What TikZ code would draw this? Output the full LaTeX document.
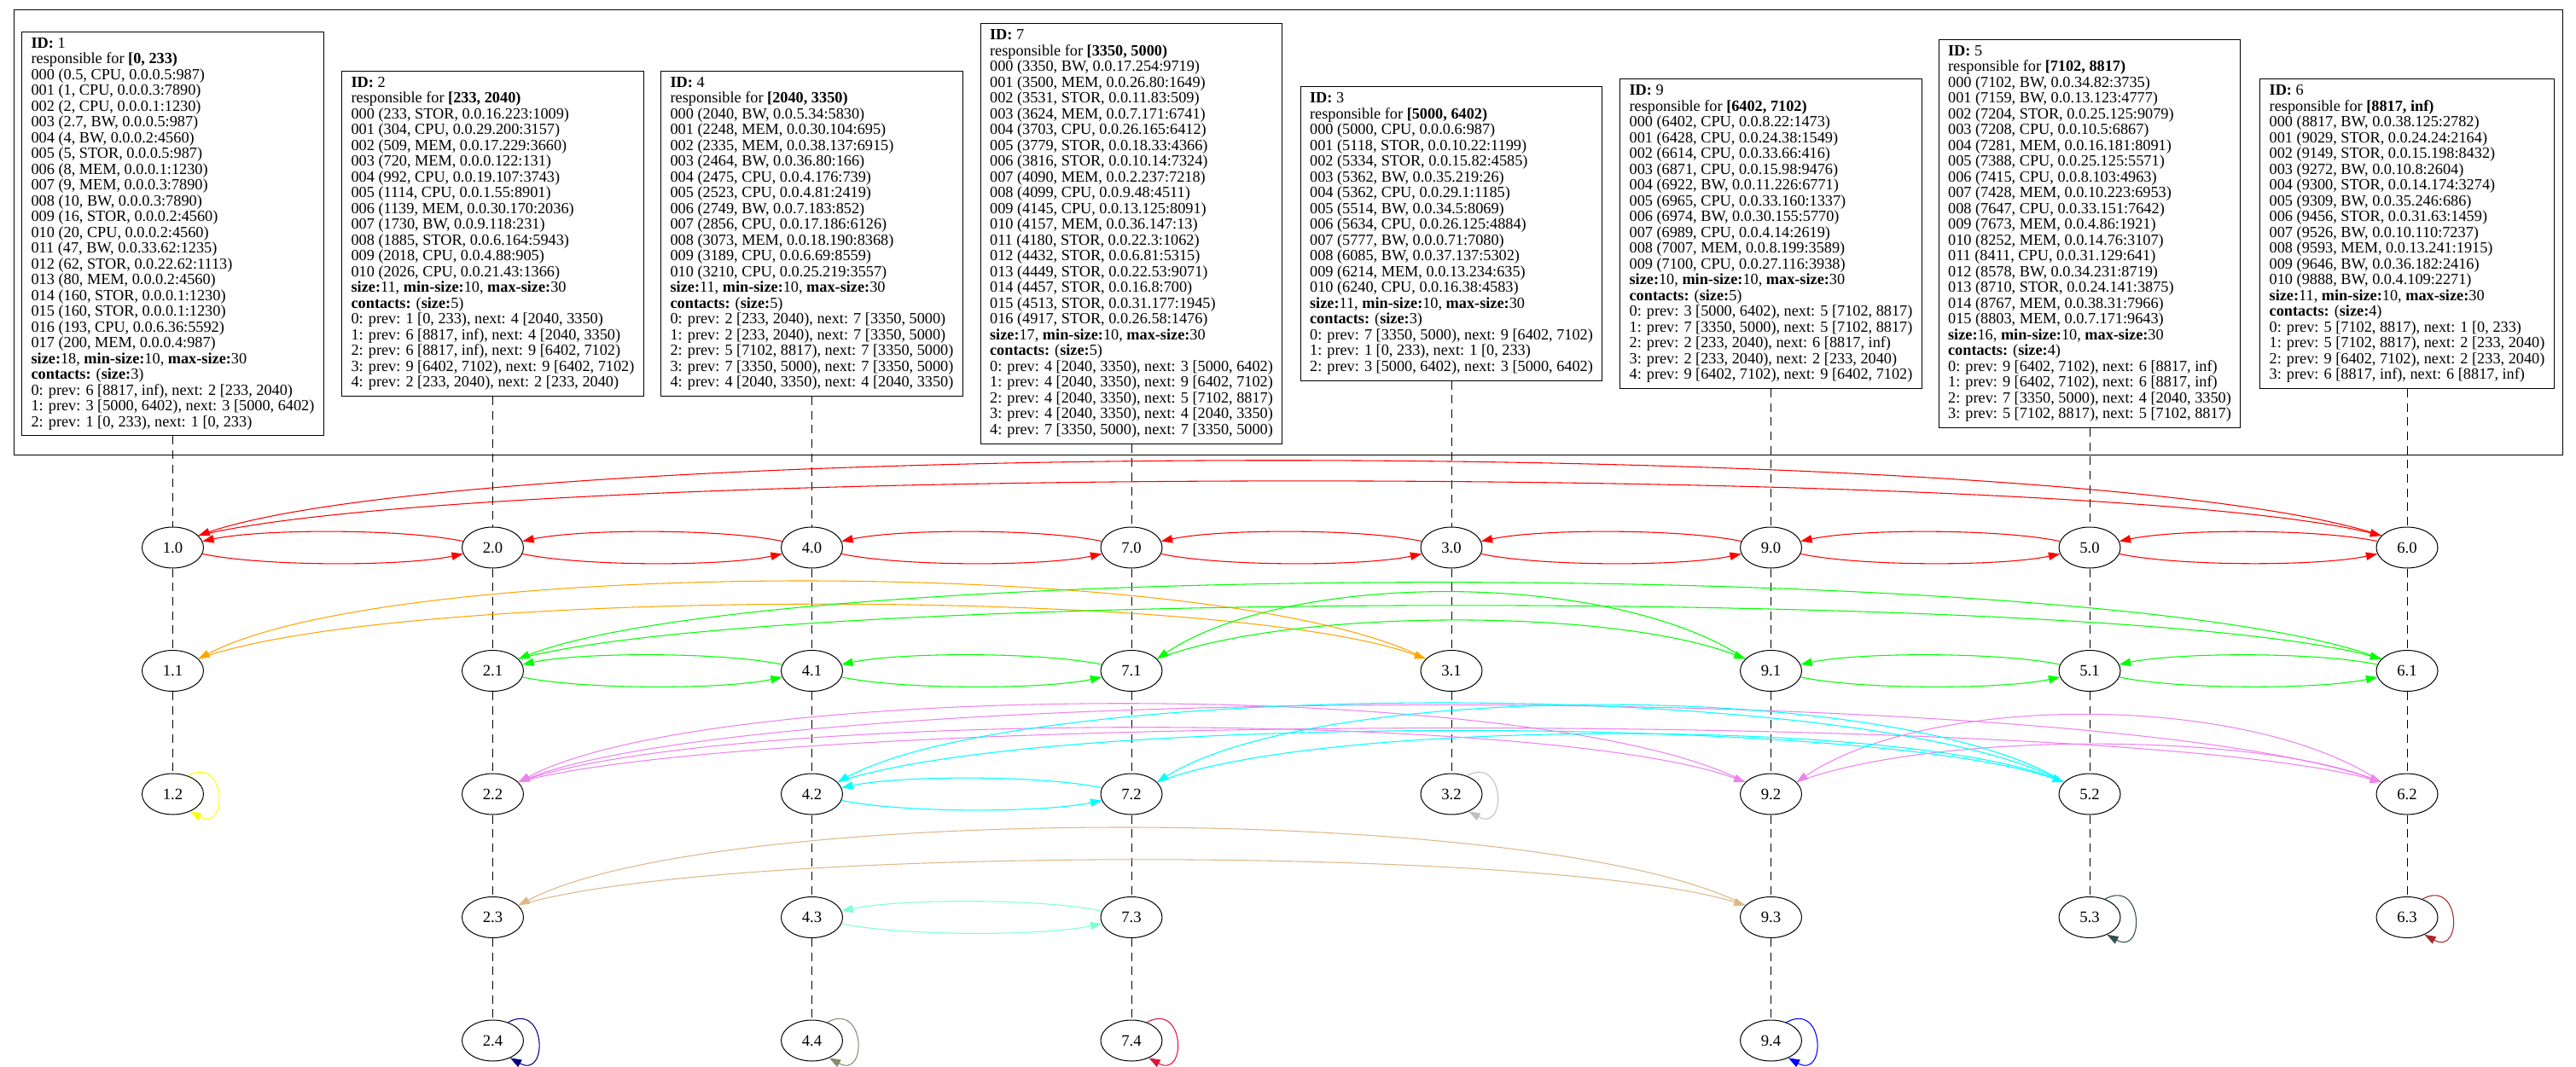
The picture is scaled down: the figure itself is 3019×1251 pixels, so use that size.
\documentclass[tikz,border=0pt]{standalone}
\usepackage{fontspec}
\setmainfont{Liberation Serif}
\usetikzlibrary{shapes.geometric,arrows.meta}
\definecolor{cred}{HTML}{FF0000}
\definecolor{corange}{HTML}{FFA500}
\definecolor{cgreen}{HTML}{00FF00}
\definecolor{cviolet}{HTML}{EE82EE}
\definecolor{ccyan}{HTML}{00FFFF}
\definecolor{ctan}{HTML}{DEB887}
\definecolor{caqua}{HTML}{7FFFD4}
\definecolor{cyellow}{HTML}{FFFF00}
\definecolor{cgray}{HTML}{C0C0C0}
\definecolor{cnavy}{HTML}{000080}
\definecolor{colive}{HTML}{8B8970}
\definecolor{ccrimson}{HTML}{DC143C}
\definecolor{cblue}{HTML}{0000FF}
\definecolor{cslate}{HTML}{2F4F4F}
\definecolor{cbrown}{HTML}{A52A2A}
\begin{document}
\begin{tikzpicture}[x=0.75pt,y=0.75pt,
  peer/.style={draw, ellipse, minimum width=54pt, minimum height=36pt, inner sep=0pt, line width=0.75pt, font=\fontsize{14}{16}\selectfont},
  infobox/.style={draw, rectangle, align=left, inner xsep=8.25pt, inner ysep=5.2pt, line width=0.75pt, font=\fontsize{13.7}{13.875}\selectfont},
  level/.style={draw, dash pattern=on 7.5pt off 5pt, line width=0.75pt},
  link/.style={line width=0.8pt, -{Triangle[length=10pt,width=7pt]}},
  lowarc/.style={out=-12, in=192, looseness=0.6},
  higharc/.style={out=168, in=12, looseness=0.6}]
\useasboundingbox (0,0) rectangle (3019,-1251);
\draw[line width=0.75pt] (16,-12) rectangle (3003,-533);

\node[infobox] (b1) at (202.5,-274) {\textbf{ID:} 1\\
responsible for \textbf{[0, 233)}\\
000 (0.5, CPU, 0.0.0.5:987)\\
001 (1, CPU, 0.0.0.3:7890)\\
002 (2, CPU, 0.0.0.1:1230)\\
003 (2.7, BW, 0.0.0.5:987)\\
004 (4, BW, 0.0.0.2:4560)\\
005 (5, STOR, 0.0.0.5:987)\\
006 (8, MEM, 0.0.0.1:1230)\\
007 (9, MEM, 0.0.0.3:7890)\\
008 (10, BW, 0.0.0.3:7890)\\
009 (16, STOR, 0.0.0.2:4560)\\
010 (20, CPU, 0.0.0.2:4560)\\
011 (47, BW, 0.0.33.62:1235)\\
012 (62, STOR, 0.0.22.62:1113)\\
013 (80, MEM, 0.0.0.2:4560)\\
014 (160, STOR, 0.0.0.1:1230)\\
015 (160, STOR, 0.0.0.1:1230)\\
016 (193, CPU, 0.0.6.36:5592)\\
017 (200, MEM, 0.0.0.4:987)\\
\textbf{size:}18, \textbf{min-size:}10, \textbf{max-size:}30\\
\textbf{contacts:} (\textbf{size:}3)\\
0: prev: 6 [8817, inf), next: 2 [233, 2040)\\
1: prev: 3 [5000, 6402), next: 3 [5000, 6402)\\
2: prev: 1 [0, 233), next: 1 [0, 233)};

\node[infobox] (b2) at (577.5,-274) {\textbf{ID:} 2\\
responsible for \textbf{[233, 2040)}\\
000 (233, STOR, 0.0.16.223:1009)\\
001 (304, CPU, 0.0.29.200:3157)\\
002 (509, MEM, 0.0.17.229:3660)\\
003 (720, MEM, 0.0.0.122:131)\\
004 (992, CPU, 0.0.19.107:3743)\\
005 (1114, CPU, 0.0.1.55:8901)\\
006 (1139, MEM, 0.0.30.170:2036)\\
007 (1730, BW, 0.0.9.118:231)\\
008 (1885, STOR, 0.0.6.164:5943)\\
009 (2018, CPU, 0.0.4.88:905)\\
010 (2026, CPU, 0.0.21.43:1366)\\
\textbf{size:}11, \textbf{min-size:}10, \textbf{max-size:}30\\
\textbf{contacts:} (\textbf{size:}5)\\
0: prev: 1 [0, 233), next: 4 [2040, 3350)\\
1: prev: 6 [8817, inf), next: 4 [2040, 3350)\\
2: prev: 6 [8817, inf), next: 9 [6402, 7102)\\
3: prev: 9 [6402, 7102), next: 9 [6402, 7102)\\
4: prev: 2 [233, 2040), next: 2 [233, 2040)};

\node[infobox] (b4) at (951.5,-274) {\textbf{ID:} 4\\
responsible for \textbf{[2040, 3350)}\\
000 (2040, BW, 0.0.5.34:5830)\\
001 (2248, MEM, 0.0.30.104:695)\\
002 (2335, MEM, 0.0.38.137:6915)\\
003 (2464, BW, 0.0.36.80:166)\\
004 (2475, CPU, 0.0.4.176:739)\\
005 (2523, CPU, 0.0.4.81:2419)\\
006 (2749, BW, 0.0.7.183:852)\\
007 (2856, CPU, 0.0.17.186:6126)\\
008 (3073, MEM, 0.0.18.190:8368)\\
009 (3189, CPU, 0.0.6.69:8559)\\
010 (3210, CPU, 0.0.25.219:3557)\\
\textbf{size:}11, \textbf{min-size:}10, \textbf{max-size:}30\\
\textbf{contacts:} (\textbf{size:}5)\\
0: prev: 2 [233, 2040), next: 7 [3350, 5000)\\
1: prev: 2 [233, 2040), next: 7 [3350, 5000)\\
2: prev: 5 [7102, 8817), next: 7 [3350, 5000)\\
3: prev: 7 [3350, 5000), next: 7 [3350, 5000)\\
4: prev: 4 [2040, 3350), next: 4 [2040, 3350)};

\node[infobox] (b7) at (1326,-274) {\textbf{ID:} 7\\
responsible for \textbf{[3350, 5000)}\\
000 (3350, BW, 0.0.17.254:9719)\\
001 (3500, MEM, 0.0.26.80:1649)\\
002 (3531, STOR, 0.0.11.83:509)\\
003 (3624, MEM, 0.0.7.171:6741)\\
004 (3703, CPU, 0.0.26.165:6412)\\
005 (3779, STOR, 0.0.18.33:4366)\\
006 (3816, STOR, 0.0.10.14:7324)\\
007 (4090, MEM, 0.0.2.237:7218)\\
008 (4099, CPU, 0.0.9.48:4511)\\
009 (4145, CPU, 0.0.13.125:8091)\\
010 (4157, MEM, 0.0.36.147:13)\\
011 (4180, STOR, 0.0.22.3:1062)\\
012 (4432, STOR, 0.0.6.81:5315)\\
013 (4449, STOR, 0.0.22.53:9071)\\
014 (4457, STOR, 0.0.16.8:700)\\
015 (4513, STOR, 0.0.31.177:1945)\\
016 (4917, STOR, 0.0.26.58:1476)\\
\textbf{size:}17, \textbf{min-size:}10, \textbf{max-size:}30\\
\textbf{contacts:} (\textbf{size:}5)\\
0: prev: 4 [2040, 3350), next: 3 [5000, 6402)\\
1: prev: 4 [2040, 3350), next: 9 [6402, 7102)\\
2: prev: 4 [2040, 3350), next: 5 [7102, 8817)\\
3: prev: 4 [2040, 3350), next: 4 [2040, 3350)\\
4: prev: 7 [3350, 5000), next: 7 [3350, 5000)};

\node[infobox] (b3) at (1701,-274) {\textbf{ID:} 3\\
responsible for \textbf{[5000, 6402)}\\
000 (5000, CPU, 0.0.0.6:987)\\
001 (5118, STOR, 0.0.10.22:1199)\\
002 (5334, STOR, 0.0.15.82:4585)\\
003 (5362, BW, 0.0.35.219:26)\\
004 (5362, CPU, 0.0.29.1:1185)\\
005 (5514, BW, 0.0.34.5:8069)\\
006 (5634, CPU, 0.0.26.125:4884)\\
007 (5777, BW, 0.0.0.71:7080)\\
008 (6085, BW, 0.0.37.137:5302)\\
009 (6214, MEM, 0.0.13.234:635)\\
010 (6240, CPU, 0.0.16.38:4583)\\
\textbf{size:}11, \textbf{min-size:}10, \textbf{max-size:}30\\
\textbf{contacts:} (\textbf{size:}3)\\
0: prev: 7 [3350, 5000), next: 9 [6402, 7102)\\
1: prev: 1 [0, 233), next: 1 [0, 233)\\
2: prev: 3 [5000, 6402), next: 3 [5000, 6402)};

\node[infobox] (b9) at (2075.5,-274) {\textbf{ID:} 9\\
responsible for \textbf{[6402, 7102)}\\
000 (6402, CPU, 0.0.8.22:1473)\\
001 (6428, CPU, 0.0.24.38:1549)\\
002 (6614, CPU, 0.0.33.66:416)\\
003 (6871, CPU, 0.0.15.98:9476)\\
004 (6922, BW, 0.0.11.226:6771)\\
005 (6965, CPU, 0.0.33.160:1337)\\
006 (6974, BW, 0.0.30.155:5770)\\
007 (6989, CPU, 0.0.4.14:2619)\\
008 (7007, MEM, 0.0.8.199:3589)\\
009 (7100, CPU, 0.0.27.116:3938)\\
\textbf{size:}10, \textbf{min-size:}10, \textbf{max-size:}30\\
\textbf{contacts:} (\textbf{size:}5)\\
0: prev: 3 [5000, 6402), next: 5 [7102, 8817)\\
1: prev: 7 [3350, 5000), next: 5 [7102, 8817)\\
2: prev: 2 [233, 2040), next: 6 [8817, inf)\\
3: prev: 2 [233, 2040), next: 2 [233, 2040)\\
4: prev: 9 [6402, 7102), next: 9 [6402, 7102)};

\node[infobox] (b5) at (2449,-274) {\textbf{ID:} 5\\
responsible for \textbf{[7102, 8817)}\\
000 (7102, BW, 0.0.34.82:3735)\\
001 (7159, BW, 0.0.13.123:4777)\\
002 (7204, STOR, 0.0.25.125:9079)\\
003 (7208, CPU, 0.0.10.5:6867)\\
004 (7281, MEM, 0.0.16.181:8091)\\
005 (7388, CPU, 0.0.25.125:5571)\\
006 (7415, CPU, 0.0.8.103:4963)\\
007 (7428, MEM, 0.0.10.223:6953)\\
008 (7647, CPU, 0.0.33.151:7642)\\
009 (7673, MEM, 0.0.4.86:1921)\\
010 (8252, MEM, 0.0.14.76:3107)\\
011 (8411, CPU, 0.0.31.129:641)\\
012 (8578, BW, 0.0.34.231:8719)\\
013 (8710, STOR, 0.0.24.141:3875)\\
014 (8767, MEM, 0.0.38.31:7966)\\
015 (8803, MEM, 0.0.7.171:9643)\\
\textbf{size:}16, \textbf{min-size:}10, \textbf{max-size:}30\\
\textbf{contacts:} (\textbf{size:}4)\\
0: prev: 9 [6402, 7102), next: 6 [8817, inf)\\
1: prev: 9 [6402, 7102), next: 6 [8817, inf)\\
2: prev: 7 [3350, 5000), next: 4 [2040, 3350)\\
3: prev: 5 [7102, 8817), next: 5 [7102, 8817)};

\node[infobox] (b6) at (2821,-274) {\textbf{ID:} 6\\
responsible for \textbf{[8817, inf)}\\
000 (8817, BW, 0.0.38.125:2782)\\
001 (9029, STOR, 0.0.24.24:2164)\\
002 (9149, STOR, 0.0.15.198:8432)\\
003 (9272, BW, 0.0.10.8:2604)\\
004 (9300, STOR, 0.0.14.174:3274)\\
005 (9309, BW, 0.0.35.246:686)\\
006 (9456, STOR, 0.0.31.63:1459)\\
007 (9526, BW, 0.0.10.110:7237)\\
008 (9593, MEM, 0.0.13.241:1915)\\
009 (9646, BW, 0.0.36.182:2416)\\
010 (9888, BW, 0.0.4.109:2271)\\
\textbf{size:}11, \textbf{min-size:}10, \textbf{max-size:}30\\
\textbf{contacts:} (\textbf{size:}4)\\
0: prev: 5 [7102, 8817), next: 1 [0, 233)\\
1: prev: 5 [7102, 8817), next: 2 [233, 2040)\\
2: prev: 9 [6402, 7102), next: 2 [233, 2040)\\
3: prev: 6 [8817, inf), next: 6 [8817, inf)};

% peer nodes
\foreach \id/\x/\n in {1/202.5/2, 2/577.5/4, 4/951.5/4, 7/1326/4, 3/1701/2, 9/2075.5/4, 5/2449/3, 6/2821/3} {
  \foreach \l in {0,...,\n} {
    \node[peer] (n\id\l) at (\x, {-642-144.5*\l}) {\id.\l};
  }
  \draw[level] (b\id.south) -- (n\id0.north);
  \foreach \l in {1,...,\n} {
    \pgfmathtruncatemacro{\p}{\l-1}
    \draw[level] (n\id\p) -- (n\id\l);
  }
}

% short arcs between neighbours
\foreach \a/\b/\c in {10/20/cred, 20/40/cred, 40/70/cred, 70/30/cred, 30/90/cred, 90/50/cred, 50/60/cred,
                      21/41/cgreen, 41/71/cgreen, 91/51/cgreen, 51/61/cgreen,
                      42/72/ccyan, 43/73/caqua} {
  \draw[link,\c] (n\a) to[lowarc] (n\b);
  \draw[link,\c] (n\b) to[higharc] (n\a);
}

% long arcs, level 0
\draw[link,cred] (n60.155) .. controls +(-342,117) and +(342,117) .. (n10.25);
\draw[link,cred] (n10.25) .. controls +(342,85) and +(-342,85) .. (n60.155);
% level 1
\draw[link,corange] (n31.155) .. controls +(-230,121) and +(230,121) .. (n11.25);
\draw[link,corange] (n11.25) .. controls +(230,85) and +(-230,85) .. (n31.155);
\draw[link,cgreen] (n61.155) .. controls +(-304,119) and +(304,119) .. (n21.25);
\draw[link,cgreen] (n21.25) .. controls +(304,83) and +(-304,83) .. (n61.155);
\draw[link,cgreen] (n91.155) .. controls +(-155,104) and +(155,104) .. (n71.25);
\draw[link,cgreen] (n71.25) .. controls +(155,60) and +(-155,60) .. (n91.155);
% level 2
\draw[link,cviolet] (n62.155) .. controls +(-304,120) and +(304,120) .. (n22.25);
\draw[link,cviolet] (n22.25) .. controls +(304,84) and +(-304,84) .. (n62.155);
\draw[link,cviolet] (n92.155) .. controls +(-230,122) and +(230,122) .. (n22.25);
\draw[link,cviolet] (n22.25) .. controls +(230,85) and +(-230,85) .. (n92.155);
\draw[link,cviolet] (n62.155) .. controls +(-155,105) and +(155,105) .. (n92.25);
\draw[link,cviolet] (n92.25) .. controls +(155,59) and +(-155,59) .. (n62.155);
\draw[link,ccyan] (n52.155) .. controls +(-230,123) and +(230,123) .. (n42.25);
\draw[link,ccyan] (n42.25) .. controls +(230,80) and +(-230,80) .. (n52.155);
\draw[link,ccyan] (n52.155) .. controls +(-192,120) and +(192,120) .. (n72.25);
\draw[link,ccyan] (n72.25) .. controls +(192,75) and +(-192,75) .. (n52.155);
% level 3
\draw[link,ctan] (n93.155) .. controls +(-230,121) and +(230,121) .. (n23.25);
\draw[link,ctan] (n23.25) .. controls +(230,71) and +(-230,71) .. (n93.155);

% self loops
\foreach \nd/\c in {12/cyellow, 32/cgray, 24/cnavy, 44/colive, 74/ccrimson, 94/cblue, 53/cslate, 63/cbrown} {
  \draw[link,\c] (n\nd.50) .. controls +(45,25) and +(45,-25) .. (n\nd.-45);
}
\end{tikzpicture}
\end{document}
